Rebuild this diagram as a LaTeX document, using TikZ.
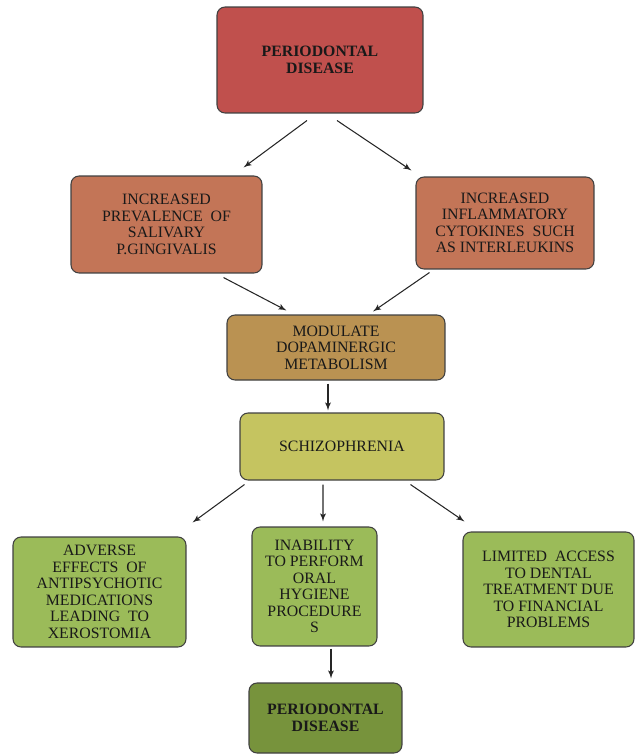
\documentclass[tikz,border=0pt]{standalone}
\usepackage{fontspec}
\setmainfont{Liberation Serif}
\usepackage{tikz}
\usetikzlibrary{arrows}
\usetikzlibrary{positioning}
\tikzset{box/.style = {draw=black!75, line width=0.6pt, rounded corners=0.16cm,
                       align=center, inner sep=1pt, text=black!90,
                       font=\fontsize{9}{9.4}\selectfont}}
\tikzset{arr/.style = {-latex', line width=0.6pt, black!85}}
\definecolor{pdred}{RGB}{192, 80, 77}
\definecolor{brick}{RGB}{195, 117, 87}
\definecolor{ochre}{RGB}{186, 146, 82}
\definecolor{olive}{RGB}{197, 196, 96}
\definecolor{leaf}{RGB}{155, 187, 89}
\definecolor{moss}{RGB}{119, 147, 60}
\begin{document}
\begin{tikzpicture}[x=0.02cm, y=-0.02cm]
      \useasboundingbox (0, 0) rectangle (635, 755);

      \node [box, fill=pdred, minimum width=4.12cm, minimum height=2.12cm] (top) at (320, 60)
            {\textbf{PERIODONTAL}\\\textbf{DISEASE}};
      \node [box, fill=brick, minimum width=3.82cm, minimum height=1.94cm] (pg) at (166.5, 224.5)
            {INCREASED\\PREVALENCE\ \ OF\\SALIVARY\\P.GINGIVALIS};
      \node [box, fill=brick, minimum width=3.56cm, minimum height=1.84cm] (cyt) at (505, 223)
            {INCREASED\\INFLAMMATORY\\CYTOKINES\ \ SUCH\\AS INTERLEUKINS};
      \node [box, fill=ochre, minimum width=4.36cm, minimum height=1.30cm] (mod) at (336, 347.5)
            {MODULATE\\DOPAMINERGIC\\METABOLISM};
      \node [box, fill=olive, minimum width=4.08cm, minimum height=1.34cm] (schiz) at (342, 446.5)
            {SCHIZOPHRENIA};

      \node [box, fill=leaf, minimum width=3.46cm, minimum height=2.20cm] (adv) at (99.5, 592)
            {ADVERSE\\EFFECTS\ \ OF\\ANTIPSYCHOTIC\\MEDICATIONS\\LEADING\ \ TO\\XEROSTOMIA};
      \node [box, fill=leaf, minimum width=2.50cm, minimum height=2.38cm] (inab) at (314.5, 586.5)
            {INABILITY\\TO PERFORM\\ORAL\\HYGIENE\\PROCEDURE\\S};
      \node [box, fill=leaf, minimum width=3.42cm, minimum height=2.30cm] (lim) at (548.5, 589.5)
            {LIMITED\ \ ACCESS\\TO DENTAL\\TREATMENT DUE\\TO FINANCIAL\\PROBLEMS};
      \node [box, fill=moss, minimum width=3.06cm, minimum height=1.40cm] (fin) at (325.5, 718)
            {\textbf{PERIODONTAL}\\\textbf{DISEASE}};

      \draw [arr] ([shift={(-13, 7)}]top.south) -- ([shift={(-19, -8)}]pg.north east);
      \draw [arr] ([shift={(17, 7)}]top.south) -- ([shift={(-4, -6)}]cyt.north west);
      \draw [arr] ([shift={(-39, 4)}]pg.south east) -- ([shift={(60, -4)}]mod.north west);
      \draw [arr] ([shift={(14, 3)}]cyt.south west) -- ([shift={(37, -3)}]mod.north);
      \draw [arr] ([shift={(-8, 3)}]mod.south) -- ([shift={(-14, -2)}]schiz.north);

      \draw [arr] ([shift={(5, 4)}]schiz.south west) -- ([shift={(6, -14)}]adv.north east);
      \draw [arr] ([shift={(-19, 4)}]schiz.south) -- ([shift={(8.5, -5)}]inab.north);
      \draw [arr] ([shift={(-34, 4)}]schiz.south east) -- ([shift={(2, -10)}]lim.north west);
      \draw [arr] ([shift={(16.5, 2)}]inab.south) -- ([shift={(5.5, -4)}]fin.north);
    \end{tikzpicture}
\end{document}
